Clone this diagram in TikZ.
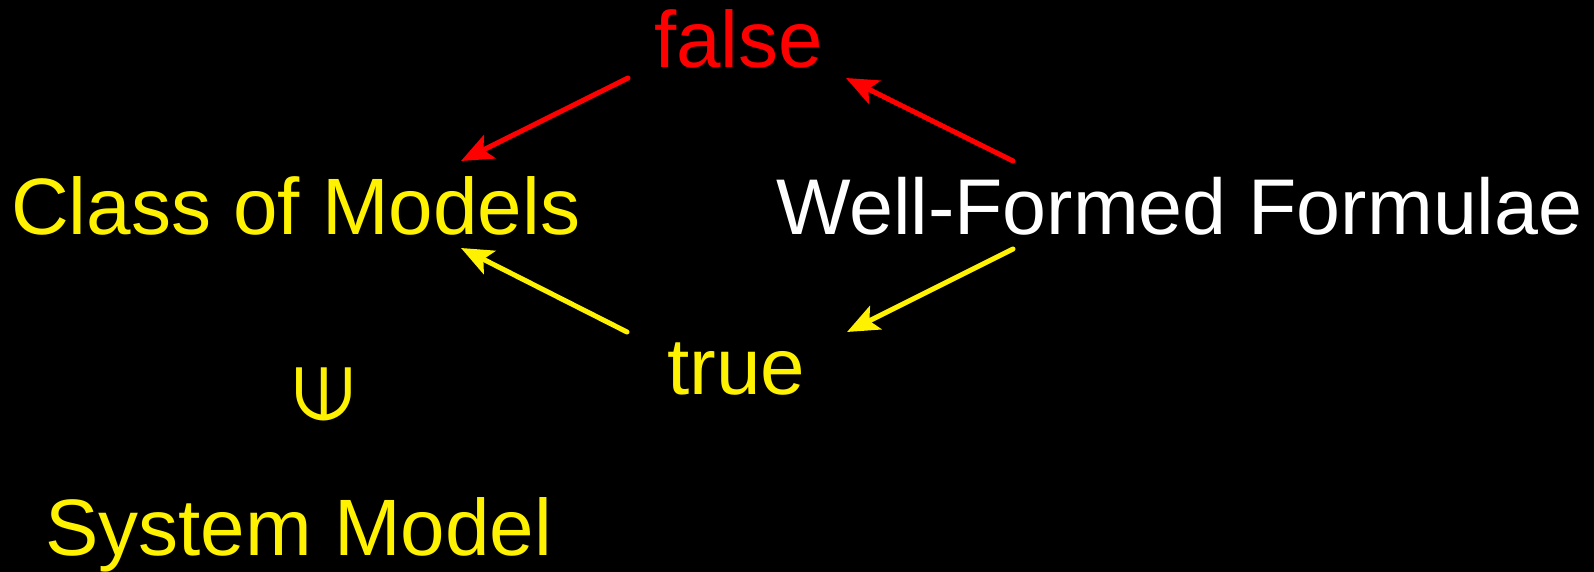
\documentclass[tikz,border=0pt]{standalone}
\usepackage{fontspec}
\setmainfont{Liberation Sans}
\newfontfamily\symfont{DejaVu Sans}
\usetikzlibrary{arrows.meta}

\begin{document}
\begin{tikzpicture}[x=1pt, y=-1pt,
        word/.style={inner sep=0pt, anchor=base west, font=\fontsize{80}{96}\selectfont},
        arrow/.style={-{Stealth[length=32pt, width=26pt, inset=7pt]}, line width=5pt, line cap=round}
    ]

    % Background
    \fill[black] (0,0) rectangle (1594,572);
    \useasboundingbox (0,0) rectangle (1594,572);

    % Labels
    \node[word, text=red] (false) at (654, 68) {false};
    \node[word, text=yellow] (classes) at (11, 234) {Class of Models};
    \node[word, text=white, font=\fontsize{79}{95}\selectfont] (wff) at (776, 234) {Well-Formed Formulae};
    \node[word, text=yellow] (true) at (667, 394) {true};
    \node[text=yellow, inner sep=0pt, font=\symfont\fontsize{76}{90}\selectfont] (elem) at (324, 394) {\rotatebox{90}{∈}};
    \node[word, text=yellow] (system) at (45, 555) {System Model};

    % Arrow end points
    \coordinate (false-out) at (628, 78);
    \coordinate (false-in) at (846, 78);
    \coordinate (classes-top) at (461, 161);
    \coordinate (classes-bot) at (461, 248);
    \coordinate (wff-top) at (1013, 161);
    \coordinate (wff-bot) at (1013, 249);
    \coordinate (true-out) at (627, 332);
    \coordinate (true-in) at (847, 332);

    % Arrows
    \draw[arrow, red] (false-out) -- (classes-top);
    \draw[arrow, red] (wff-top) -- (false-in);
    \draw[arrow, yellow] (true-out) -- (classes-bot);
    \draw[arrow, yellow] (wff-bot) -- (true-in);

\end{tikzpicture}
\end{document}
